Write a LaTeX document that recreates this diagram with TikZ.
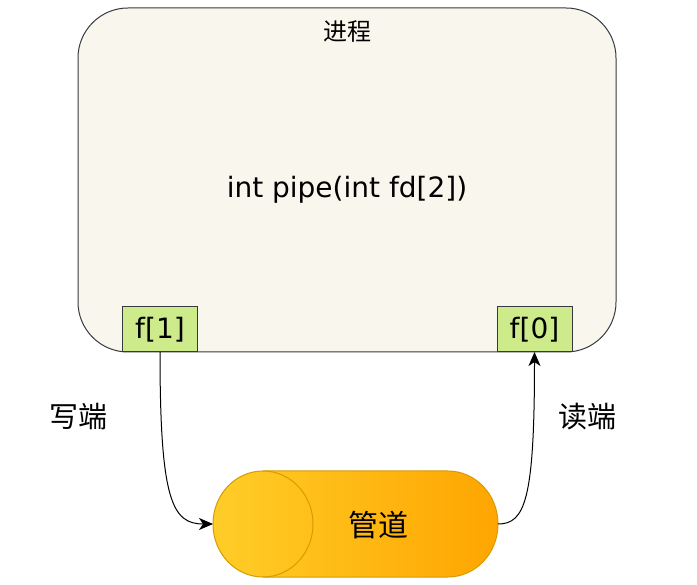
\documentclass[tikz,border=0pt]{standalone}
\usepackage{fontspec}
\setmainfont{DejaVu Sans}
\newfontfamily\cjk{Noto Sans CJK SC}
\usetikzlibrary{arrows.meta,positioning}
\definecolor{procfill}{HTML}{F9F7ED}
\definecolor{edgegray}{HTML}{36393D}
\definecolor{fdfill}{HTML}{CDEB8B}
\definecolor{pipeleft}{HTML}{FFCD28}
\definecolor{piperight}{HTML}{FFA500}
\definecolor{pipeedge}{HTML}{D79B00}

\begin{document}
\begin{tikzpicture}[
        x=1pt, y=-1pt,
        every node/.style={inner sep=0, outer sep=0},
        proc/.style={draw=edgegray, fill=procfill, line width=1pt, rounded corners=50pt, minimum width=538pt, minimum height=344pt},
        fd/.style={draw=edgegray, fill=fdfill, line width=1pt, minimum width=75pt, minimum height=45pt, font=\fontsize{28}{32}\selectfont},
        code/.style={font=\fontsize{28}{32}\selectfont},
        cjktext/.style={font=\cjk\fontsize{#1}{#1}\selectfont},
        link/.style={-{Stealth[length=14pt,width=12pt,inset=4pt]}, line width=1pt},
    ]
    \useasboundingbox (0,0) rectangle (697,585);

    % process and its two ends
    \node [proc] (proc) at (347,180) {};
    \node [cjktext=24] (ptitle) at (347,32) {进程};
    \node [code] (call) at (347,190) {int pipe(int fd[2])};
    \node [fd] (f1) at (160,329.5) {f[1]};
    \node [fd] (f0) at (534.5,329.5) {f[0]};

    % pipe
    \path [shade, left color=pipeleft, right color=piperight, draw=pipeedge, line width=1pt]
        (263,471) -- (448,471) arc [start angle=90, end angle=-90, x radius=50pt, y radius=53pt]
        -- (263,577) arc [start angle=270, end angle=90, x radius=50pt, y radius=53pt] -- cycle;
    \draw [pipeedge, line width=1pt] (263,471) arc [start angle=90, end angle=-90, x radius=50pt, y radius=53pt];
    \coordinate (pipeL) at (213,524);
    \coordinate (pipeR) at (498,524);
    \node [cjktext=30] (pipe) at (378,525) {管道};

    \node [cjktext=29] (wr) at (78,417) {写端};
    \node [cjktext=29] (rd) at (587,417) {读端};

    \draw [link] (f1.south) .. controls +(0,148) and +(-41,0) .. (pipeL);
    \draw [link] (pipeR) .. controls +(27,0) and +(0,148) .. (f0.south);
\end{tikzpicture}
\end{document}
